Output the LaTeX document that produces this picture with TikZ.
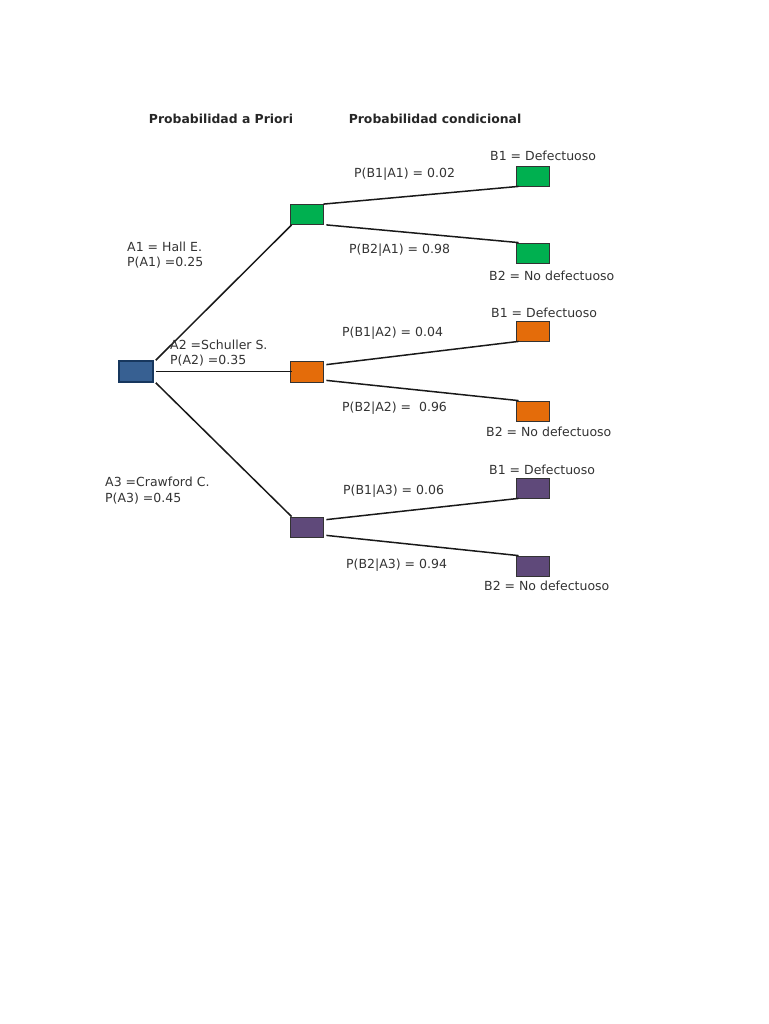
\documentclass[tikz,border=0pt]{standalone}
\usepackage{fontspec}
\setmainfont{DejaVu Sans}
\begin{document}
\begin{tikzpicture}[x=1pt,y=-1pt,
  txt/.style={inner sep=0pt,anchor=west,yshift=-1.5pt,text=black!80,font=\fontsize{12.5}{15.5}\selectfont,align=left},
  ttl/.style={inner sep=0pt,text=black!85,font=\fontsize{12.4}{15}\selectfont\bfseries},
  box/.style={draw=black!80,line width=0.8pt,minimum width=33pt,minimum height=20pt,inner sep=0pt},
  conn/.style={line width=1.5pt,black!90}]
\useasboundingbox (0,0) rectangle (768,1024);
\definecolor{cgreen}{HTML}{00B050}
\definecolor{corange}{HTML}{E46C0A}
\definecolor{cpurple}{HTML}{5F497A}
\definecolor{cblue}{HTML}{376092}
\definecolor{cblueb}{HTML}{17375E}
% titles
\node[ttl] (t1) at (221,119) {Probabilidad a Priori};
\node[ttl] (t2) at (435,119) {Probabilidad condicional};
% boxes
\node[box,fill=cblue,draw=cblueb,line width=1.5pt,minimum width=34pt,minimum height=21pt] (r) at (136,371.5) {};
\node[box,fill=cgreen] (g) at (306.5,214.5) {};
\node[box,fill=corange,minimum height=21pt] (o) at (306.5,371.5) {};
\node[box,fill=cpurple] (p) at (306.5,527) {};
\node[box,fill=cgreen] (g1) at (532.5,176) {};
\node[box,fill=cgreen] (g2) at (532.5,253) {};
\node[box,fill=corange] (o1) at (532.5,331) {};
\node[box,fill=corange] (o2) at (532.5,411) {};
\node[box,fill=cpurple] (p1) at (532.5,488) {};
\node[box,fill=cpurple] (p2) at (532.5,566) {};
% connectors
\draw[conn] ([xshift=2pt]r.north east) -- ([xshift=2pt]g.south west);
\draw[conn] ([xshift=2pt]r.east) -- ([xshift=2pt]o.west);
\draw[conn] ([xshift=2pt]r.south east) -- ([xshift=2pt]p.north west);
\draw[conn] (g.north east) -- ([xshift=3pt]g1.south west);
\draw[conn] ([xshift=3pt]g.south east) -- ([xshift=3pt]g2.north west);
\draw[conn] ([xshift=3pt,yshift=-4pt]o.north east) -- ([xshift=3pt]o1.south west);
\draw[conn] ([xshift=3pt,yshift=2pt]o.south east) -- ([xshift=3pt]o2.north west);
\draw[conn] ([xshift=3pt,yshift=-3pt]p.north east) -- ([xshift=3pt]p1.south west);
\draw[conn] ([xshift=3pt,yshift=2pt]p.south east) -- ([xshift=3pt]p2.north west);
% prior labels
\node[txt] (la1) at (127,253.5) {A1 = Hall E.\\P(A1) =0.25};
\node[txt] (la2) at (170,351.5) {A2 =Schuller S.\\P(A2) =0.35};
\node[txt] (la3) at (105,489) {A3 =Crawford C.\\P(A3) =0.45};
% conditional labels
\node[txt] (c11) at (354,173) {P(B1|A1) = 0.02};
\node[txt] (c12) at (349,249) {P(B2|A1) = 0.98};
\node[txt] (c21) at (342,332) {P(B1|A2) = 0.04};
\node[txt] (c22) at (342,407) {P(B2|A2) = \ 0.96};
\node[txt] (c31) at (343,490) {P(B1|A3) = 0.06};
\node[txt] (c32) at (346,564) {P(B2|A3) = 0.94};
% leaf labels
\node[txt] (d11) at (490,154) {B1 = Defectuoso};
\node[txt] (d12) at (489,274) {B2 = No defectuoso};
\node[txt] (d21) at (491,311) {B1 = Defectuoso};
\node[txt] (d22) at (486,430) {B2 = No defectuoso};
\node[txt] (d31) at (489,468) {B1 = Defectuoso};
\node[txt] (d32) at (484,584) {B2 = No defectuoso};
\end{tikzpicture}
\end{document}
